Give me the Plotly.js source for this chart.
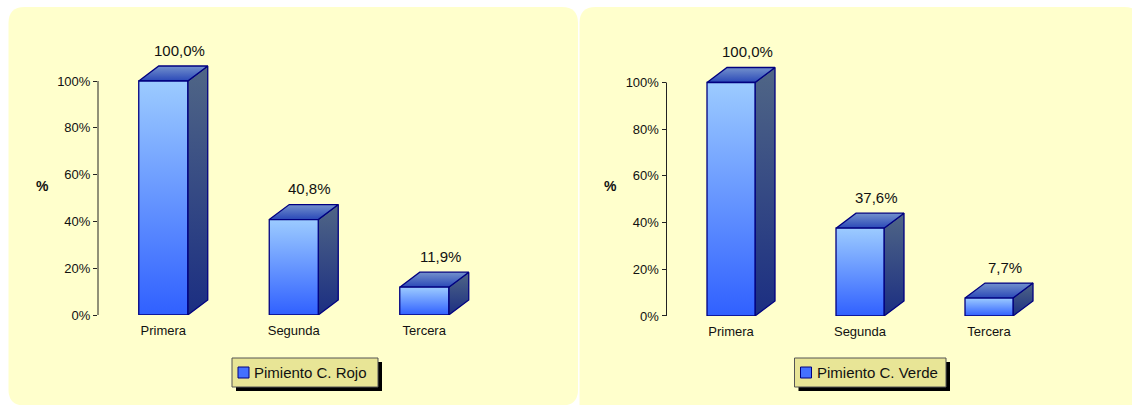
<!DOCTYPE html>
<html>
<head>
<meta charset="utf-8">
<script src="https://cdn.plot.ly/plotly-3.0.1.min.js"></script>
<style>html,body{margin:0;padding:0;background:#fff;}#chart{width:1132px;height:405px;}</style>
</head>
<body>
<div id="chart"></div>
<script>
// ---- data ----
const categories = ['Primera', 'Segunda', 'Tercera'];
const rojoValues = [100.0, 40.8, 11.9];
const verdeValues = [100.0, 37.6, 7.7];
const yTickVals = [0, 20, 40, 60, 80, 100];
const yTickText = ['0%', '20%', '40%', '60%', '80%', '100%'];
const seriesNames = ['Pimiento C. Rojo', 'Pimiento C. Verde'];
const yTitle = '%';

// ---- layout geometry (pixels) ----
const W = 1132, H = 405;
const FONT = 'Liberation Sans, Arial, sans-serif';
const panels = [
  { values: rojoValues, name: seriesNames[0], xa: 'x', ya: 'y', left: 98, unitX: 130.5, zeroY: 315, unitY: 2.34, halfW: 24.5,
    titleX: 42, titleY: 186, leg: { x0: 232, y0: 358, x1: 378, y1: 387 } },
  { values: verdeValues, name: seriesNames[1], xa: 'x2', ya: 'y2', left: 666.5, unitX: 129, zeroY: 316, unitY: 2.335, halfW: 24,
    titleX: 611, titleY: 186, leg: { x0: 794.5, y0: 358, x1: 946, y1: 387 } }
];
const X_MAX = 2.8, Y_MAX = 115;
const DEPTH_X = 20, DEPTH_Y = 15;

const px = x => x / W;
const py = y => 1 - y / H;

const traces = [];
const annotations = [];
const shapes = [];

function rrect(x0, y0, x1, y1, r) {
  const X = v => px(v).toFixed(5), Y = v => py(v).toFixed(5);
  return 'M' + X(x0 + r) + ',' + Y(y0) + ' L' + X(x1 - r) + ',' + Y(y0) +
    ' Q' + X(x1) + ',' + Y(y0) + ' ' + X(x1) + ',' + Y(y0 + r) +
    ' L' + X(x1) + ',' + Y(y1 - r) +
    ' Q' + X(x1) + ',' + Y(y1) + ' ' + X(x1 - r) + ',' + Y(y1) +
    ' L' + X(x0 + r) + ',' + Y(y1) +
    ' Q' + X(x0) + ',' + Y(y1) + ' ' + X(x0) + ',' + Y(y1 - r) +
    ' L' + X(x0) + ',' + Y(y0 + r) +
    ' Q' + X(x0) + ',' + Y(y0) + ' ' + X(x0 + r) + ',' + Y(y0) + ' Z';
}

// panel backgrounds
shapes.push({ type: 'path', xref: 'paper', yref: 'paper', path: rrect(8.5, 7, 578, 405.5, 16), fillcolor: '#FFFFCC', line: { width: 0 }, layer: 'below' });
shapes.push({ type: 'path', xref: 'paper', yref: 'paper', path: rrect(579.5, 7, 1140, 420, 16), fillcolor: '#FFFFCC', line: { width: 0 }, layer: 'below' });

const OUTLINE = { color: '#000080', width: 1.3 };
const FRONT_CS = [[0, '#3060FF'], [1, '#9CCBFF']];
const SIDE_CS = [[0, '#1B2E82'], [1, '#506686']];
const TOP_CS = [[0, '#2A48B8'], [1, '#7391CC']];

function face(xs, ys, cs, xa, ya) {
  traces.push({
    type: 'scatter', mode: 'lines', x: xs.concat([xs[0]]), y: ys.concat([ys[0]]),
    xaxis: xa, yaxis: ya, fill: 'toself',
    fillgradient: { type: 'vertical', colorscale: cs },
    line: OUTLINE, hoverinfo: 'skip', showlegend: false
  });
}

const layout = {
  width: W, height: H,
  margin: { l: 0, r: 0, t: 0, b: 0, pad: 0 },
  paper_bgcolor: '#FFFFFF', plot_bgcolor: 'rgba(0,0,0,0)',
  showlegend: false,
  font: { family: FONT, size: 13, color: '#111111' }
};

panels.forEach((p, k) => {
  const hw = p.halfW / p.unitX;
  const dx = DEPTH_X / p.unitX;
  const dy = DEPTH_Y / p.unitY;
  p.values.forEach((v, i) => {
    // side face
    face([i + hw, i + hw + dx, i + hw + dx, i + hw], [0, dy, v + dy, v], SIDE_CS, p.xa, p.ya);
    // top face
    face([i - hw, i - hw + dx, i + hw + dx, i + hw], [v, v + dy, v + dy, v], TOP_CS, p.xa, p.ya);
    // front face
    face([i - hw, i - hw, i + hw, i + hw], [0, v, v, 0], FRONT_CS, p.xa, p.ya);
    annotations.push({
      xref: p.xa, yref: p.ya, x: i, y: v, xshift: 16, yshift: 31,
      text: v.toFixed(1).replace('.', ',') + '%', showarrow: false,
      font: { family: FONT, size: 15, color: '#111111' }, xanchor: 'center', yanchor: 'middle'
    });
  });

  const axSuffix = k === 0 ? '' : '2';
  const xDomR = p.left + (X_MAX + 0.5) * p.unitX;
  const yTopPx = p.zeroY - Y_MAX * p.unitY;
  layout['xaxis' + axSuffix] = {
    domain: [px(p.left), px(xDomR)], range: [-0.5, X_MAX], anchor: 'y' + axSuffix,
    tickvals: categories.map((c, i) => i), ticktext: categories,
    showgrid: false, zeroline: false, showline: false, ticks: '',
    tickfont: { family: FONT, size: 13, color: '#111111' }, ticklabelstandoff: 6, fixedrange: true
  };
  layout['yaxis' + axSuffix] = {
    domain: [py(p.zeroY), py(yTopPx)], range: [0, Y_MAX], anchor: 'x' + axSuffix,
    tickvals: yTickVals, ticktext: yTickText,
    showgrid: false, zeroline: false, showline: false,
    ticks: 'outside', ticklen: 4, tickwidth: 1, tickcolor: '#222222',
    tickfont: { family: FONT, size: 13, color: '#111111' }, fixedrange: true
  };
  // y axis line from 0% to 100%
  shapes.push({ type: 'line', xref: 'x' + axSuffix + ' domain', yref: 'y' + axSuffix, x0: 0, x1: 0, y0: 0, y1: 100,
    line: { color: '#222222', width: 1 } });
  // y axis title
  annotations.push({ xref: 'paper', yref: 'paper', x: px(p.titleX), y: py(p.titleY), text: '<b>' + yTitle + '</b>',
    showarrow: false, xanchor: 'center', yanchor: 'middle', font: { family: FONT, size: 14, color: '#111111' } });

  // legend box (shadow, box, key, text)
  const L = p.leg;
  shapes.push({ type: 'rect', xref: 'paper', yref: 'paper', x0: px(L.x0 + 4), x1: px(L.x1 + 4), y0: py(L.y0 + 4), y1: py(L.y1 + 4),
    fillcolor: '#000000', line: { width: 0 } });
  shapes.push({ type: 'rect', xref: 'paper', yref: 'paper', x0: px(L.x0), x1: px(L.x1), y0: py(L.y0), y1: py(L.y1),
    fillcolor: '#E8E596', line: { color: '#555555', width: 1 } });
  const cy = (L.y0 + L.y1) / 2;
  shapes.push({ type: 'rect', xref: 'paper', yref: 'paper', x0: px(L.x0 + 6), x1: px(L.x0 + 17), y0: py(cy - 5.5), y1: py(cy + 5.5),
    fillcolor: '#4470FF', line: { color: '#000080', width: 1 } });
  annotations.push({ xref: 'paper', yref: 'paper', x: px(L.x0 + 20), y: py(cy), text: p.name, showarrow: false,
    xanchor: 'left', yanchor: 'middle', font: { family: FONT, size: 15, color: '#111111' } });
});

layout.shapes = shapes;
layout.annotations = annotations;

Plotly.newPlot('chart', traces, layout, { displayModeBar: false, staticPlot: true });
</script>
</body>
</html>
